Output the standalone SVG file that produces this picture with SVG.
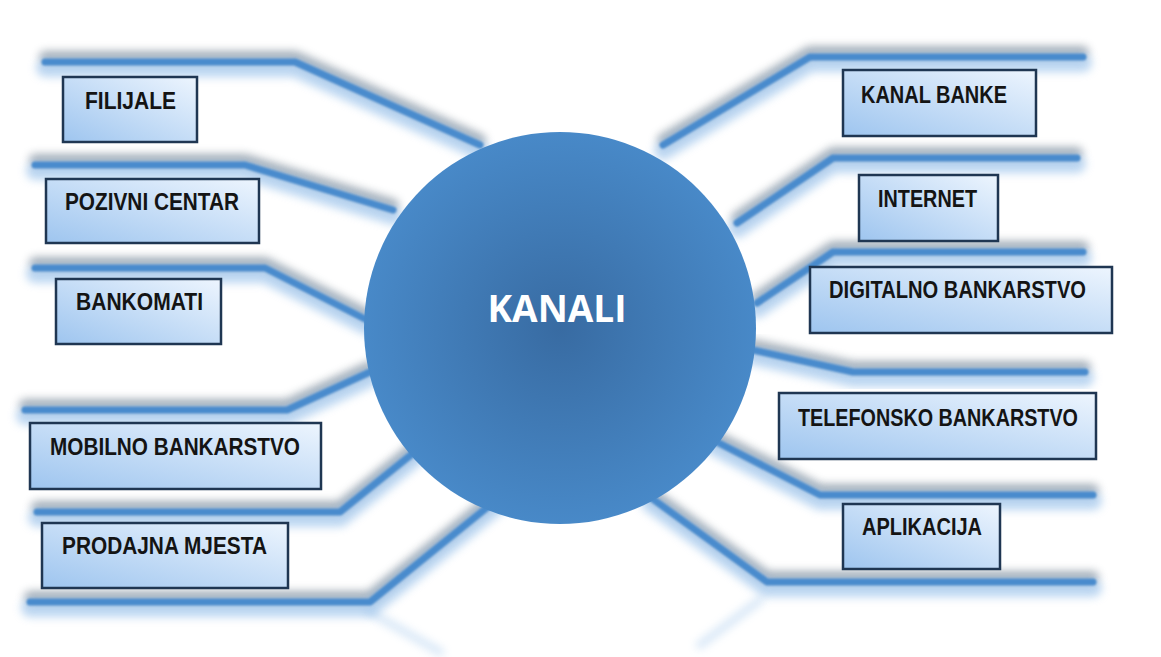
<svg xmlns="http://www.w3.org/2000/svg" width="1161" height="657" viewBox="0 0 1161 657">
<defs>
<style>
.lbl{font-family:"Liberation Sans",Arial,sans-serif;font-weight:bold;font-size:23.5px;fill:#141414;}
.box{fill:url(#boxg);stroke:#1f3652;stroke-width:2.5;}
.shd{fill:none;stroke:#5f6f80;stroke-width:12;stroke-linejoin:round;stroke-linecap:round;opacity:0.55;filter:url(#blur4);}
.glo{fill:none;stroke:#8fbbe8;stroke-width:18;stroke-linejoin:round;stroke-linecap:round;opacity:0.6;filter:url(#blur4);}
.core{fill:none;stroke:#4a8bcd;stroke-width:7;stroke-linejoin:round;stroke-linecap:round;filter:url(#blur1);}
.ghost{fill:none;stroke:#8fbbe8;stroke-width:8;stroke-linecap:round;opacity:0.35;filter:url(#blur4);}
</style>
<filter id="blur4" x="-20%" y="-50%" width="140%" height="200%"><feGaussianBlur stdDeviation="4"/></filter>
<filter id="blur1" x="-10%" y="-50%" width="120%" height="200%"><feGaussianBlur stdDeviation="0.8"/></filter>
<linearGradient id="boxg" x1="0" y1="1" x2="1" y2="0">
<stop offset="0" stop-color="#9ec5ef"/>
<stop offset="1" stop-color="#edf5fe"/>
</linearGradient>
<radialGradient id="circg" cx="0.5" cy="0.5" r="0.5">
<stop offset="0" stop-color="#386ba2"/>
<stop offset="1" stop-color="#4889c8"/>
</radialGradient>
</defs>
<rect width="1161" height="657" fill="#ffffff"/>
<g id="connectors">
<g transform="translate(0,-5)">
<path class="shd" d="M45,62 H295 L480,145"/>
<path class="shd" d="M35,165 H245 L393,210"/>
<path class="shd" d="M35,268 H265 L367,320"/>
<path class="shd" d="M25,410 H287 L370,372"/>
<path class="shd" d="M37,512 H340 L417,450"/>
<path class="shd" d="M30,602 H370 L500,497"/>
<path class="shd" d="M1083,57 H810 L663,145"/>
<path class="shd" d="M1077,158 H833 L737,223"/>
<path class="shd" d="M1083,252 H833 L757,303"/>
<path class="shd" d="M1085,372 H853 L753,350"/>
<path class="shd" d="M1093,495 H820 L713,440"/>
<path class="shd" d="M1093,582 H767 L650,497"/>
</g>
<g transform="translate(0,6)">
<path class="glo" d="M45,62 H295 L480,145"/>
<path class="glo" d="M35,165 H245 L393,210"/>
<path class="glo" d="M35,268 H265 L367,320"/>
<path class="glo" d="M25,410 H287 L370,372"/>
<path class="glo" d="M37,512 H340 L417,450"/>
<path class="glo" d="M30,602 H370 L500,497"/>
<path class="glo" d="M1083,57 H810 L663,145"/>
<path class="glo" d="M1077,158 H833 L737,223"/>
<path class="glo" d="M1083,252 H833 L757,303"/>
<path class="glo" d="M1085,372 H853 L753,350"/>
<path class="glo" d="M1093,495 H820 L713,440"/>
<path class="glo" d="M1093,582 H767 L650,497"/>
</g>
<path class="ghost" d="M370,612 L440,652"/>
<path class="ghost" d="M760,600 L700,645"/>
<path class="core" d="M45,62 H295 L480,145"/>
<path class="core" d="M35,165 H245 L393,210"/>
<path class="core" d="M35,268 H265 L367,320"/>
<path class="core" d="M25,410 H287 L370,372"/>
<path class="core" d="M37,512 H340 L417,450"/>
<path class="core" d="M30,602 H370 L500,497"/>
<path class="core" d="M1083,57 H810 L663,145"/>
<path class="core" d="M1077,158 H833 L737,223"/>
<path class="core" d="M1083,252 H833 L757,303"/>
<path class="core" d="M1085,372 H853 L753,350"/>
<path class="core" d="M1093,495 H820 L713,440"/>
<path class="core" d="M1093,582 H767 L650,497"/>
</g>
<g id="kanali">
<circle cx="560" cy="328" r="196" fill="url(#circg)"/>
<text x="557" y="322" text-anchor="middle" font-family="'Open Sans','Liberation Sans',sans-serif" font-weight="bold" font-size="37" fill="#ffffff" textLength="139" lengthAdjust="spacingAndGlyphs">KANALI</text>
</g>
<g id="filijale"><rect class="box" x="63" y="77" width="134" height="65"/><text class="lbl" x="85" y="109" textLength="91" lengthAdjust="spacingAndGlyphs">FILIJALE</text></g>
<g id="pozivni-centar"><rect class="box" x="46" y="179" width="213" height="64"/><text class="lbl" x="65" y="210" textLength="174" lengthAdjust="spacingAndGlyphs">POZIVNI CENTAR</text></g>
<g id="bankomati"><rect class="box" x="56" y="279" width="165" height="65"/><text class="lbl" x="76" y="310" textLength="127" lengthAdjust="spacingAndGlyphs">BANKOMATI</text></g>
<g id="mobilno"><rect class="box" x="30" y="423" width="291" height="66"/><text class="lbl" x="50" y="455" textLength="250" lengthAdjust="spacingAndGlyphs">MOBILNO BANKARSTVO</text></g>
<g id="prodajna"><rect class="box" x="42" y="523" width="246" height="65"/><text class="lbl" x="62" y="554" textLength="205" lengthAdjust="spacingAndGlyphs">PRODAJNA MJESTA</text></g>
<g id="kanal-banke"><rect class="box" x="843" y="70" width="193" height="66"/><text class="lbl" x="861" y="103" textLength="146" lengthAdjust="spacingAndGlyphs">KANAL BANKE</text></g>
<g id="internet"><rect class="box" x="859" y="175" width="139" height="66"/><text class="lbl" x="878" y="207" textLength="99" lengthAdjust="spacingAndGlyphs">INTERNET</text></g>
<g id="digitalno"><rect class="box" x="810" y="267" width="302" height="66"/><text class="lbl" x="829" y="298" textLength="257" lengthAdjust="spacingAndGlyphs">DIGITALNO BANKARSTVO</text></g>
<g id="telefonsko"><rect class="box" x="779" y="393" width="317" height="66"/><text class="lbl" x="798" y="426" textLength="280" lengthAdjust="spacingAndGlyphs">TELEFONSKO BANKARSTVO</text></g>
<g id="aplikacija"><rect class="box" x="843" y="504" width="157" height="65"/><text class="lbl" x="862" y="535" textLength="120" lengthAdjust="spacingAndGlyphs">APLIKACIJA</text></g>
</svg>
